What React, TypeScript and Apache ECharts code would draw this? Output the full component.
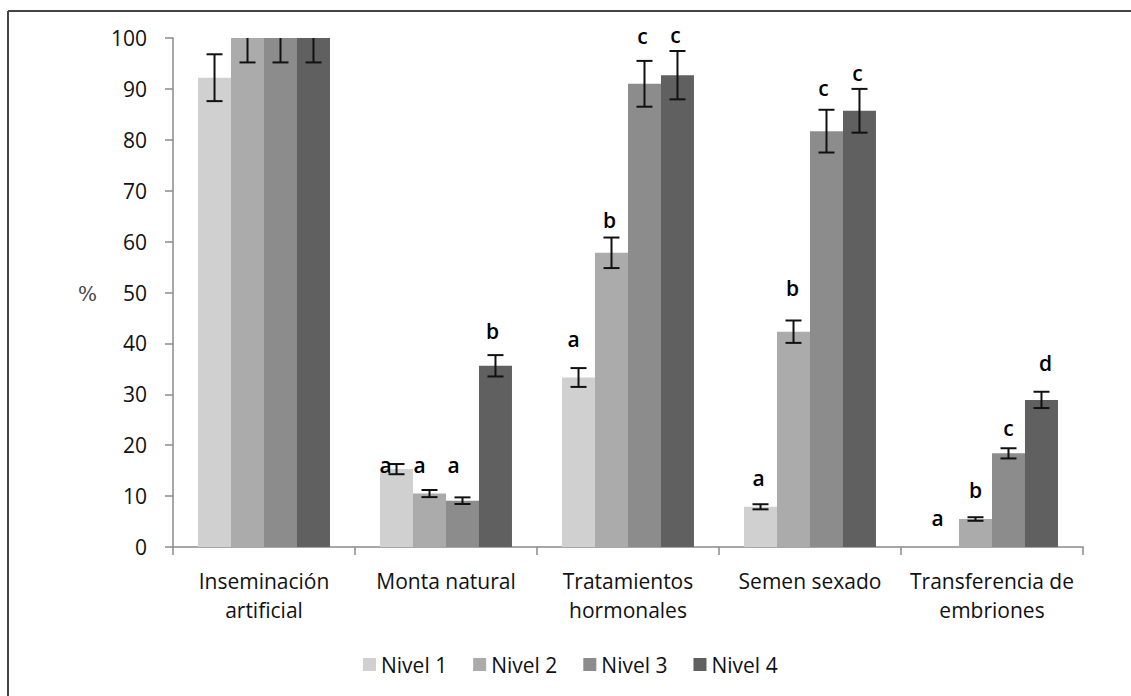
import React, { useEffect, useRef } from "react";
import * as echarts from "echarts";

const categories = [
  "Inseminación\nartificial",
  "Monta natural",
  "Tratamientos\nhormonales",
  "Semen sexado",
  "Transferencia de\nembriones",
];
const seriesNames = ["Nivel 1", "Nivel 2", "Nivel 3", "Nivel 4"];

const nivel1 = [92.2, 15.3, 33.3, 7.9, 0];
const nivel2 = [100, 10.5, 57.8, 42.3, 5.5];
const nivel3 = [100, 9.1, 91.0, 81.7, 18.4];
const nivel4 = [100, 35.6, 92.7, 85.7, 28.9];

const err1 = [4.6, 1.0, 1.85, 0.5, null];
const err2 = [4.8, 0.7, 3.0, 2.2, 0.35];
const err3 = [4.8, 0.65, 4.5, 4.2, 1.0];
const err4 = [4.8, 2.1, 4.75, 4.3, 1.6];

const letters1 = ["", "a", "a", "a", "a"];
const letters2 = ["", "a", "b", "b", "b"];
const letters3 = ["", "a", "c", "c", "c"];
const letters4 = ["", "b", "c", "c", "d"];

// heights (in %) at which the significance letters sit
const letterAt1 = [null, 16.1, 40.9, 13.6, 5.7];
const letterAt2 = [null, 16.1, 64.2, 50.9, 11.2];
const letterAt3 = [null, 16.1, 100.3, 90.1, 23.4];
const letterAt4 = [null, 42.4, 100.6, 93.2, 36.1];

const yTicks = [0, 10, 20, 30, 40, 50, 60, 70, 80, 90, 100];

// style: horizontal pixel nudges of the letters
const letterDx = [
  [0, -11, -5, -2, -5],
  [0, -10, -2, -1, 0],
  [0, -9, -2, -3, 0],
  [0, -3, -2, -2, 4],
];

const colors = ["#d0d0d0", "#ababab", "#8c8c8c", "#606060"];
const FONT = "'Open Sans', 'Noto Sans', sans-serif";
const GAP = 0.275;

export default function App() {
  const ref = useRef<HTMLDivElement>(null);

  useEffect(() => {
    document.body.style.margin = "0";
    if (!ref.current) return;
    const chart = echarts.init(ref.current, null, { renderer: "svg" });

    const values = [nivel1, nivel2, nivel3, nivel4];
    const errs = [err1, err2, err3, err4];
    const letters = [letters1, letters2, letters3, letters4];
    const letterAt = [letterAt1, letterAt2, letterAt3, letterAt4];
    const yMax = yTicks[yTicks.length - 1];

    const barSeries = seriesNames.map((name, s) => ({
      name,
      type: "bar",
      data: values[s],
      barGap: "0%",
      barCategoryGap: `${GAP * 100}%`,
      itemStyle: { color: colors[s] },
      z: 2,
    }));

    const errSeries = seriesNames.map((name, s) => ({
      name: "err-" + name,
      type: "custom",
      clip: false,
      z: 5,
      silent: true,
      data: values[s].map((v, i) => [i, v]),
      renderItem: (params: any, api: any) => {
        const i = params.dataIndex;
        const v = values[s][i];
        const e = errs[s][i];
        const bandW = api.size([1, 0])[0];
        const bw = (bandW * (1 - GAP)) / 4;
        const cx = api.coord([i, 0])[0] + (s - 1.5) * bw;
        const children: any[] = [];
        const stroke = { stroke: "#111", lineWidth: 2 };
        const capHalf = 8;
        if (e != null) {
          const hiV = Math.min(v + e, yMax);
          const yHi = api.coord([i, hiV])[1];
          const yLo = api.coord([i, v - e])[1];
          children.push({ type: "line", shape: { x1: cx, y1: yHi, x2: cx, y2: yLo }, style: stroke });
          children.push({ type: "line", shape: { x1: cx - capHalf, y1: yLo, x2: cx + capHalf, y2: yLo }, style: stroke });
          if (v + e <= yMax) {
            children.push({ type: "line", shape: { x1: cx - capHalf, y1: yHi, x2: cx + capHalf, y2: yHi }, style: stroke });
          }
        }
        const L = letters[s][i];
        const at = letterAt[s][i];
        if (L && at != null) {
          const ly = api.coord([i, at])[1];
          children.push({
            type: "text",
            x: cx + letterDx[s][i],
            y: ly,
            style: {
              text: L,
              fill: "#000",
              font: `600 21px ${FONT}`,
              align: "center",
              verticalAlign: "middle",
            },
          });
        }
        return { type: "group", children };
      },
    }));

    chart.setOption({
      animation: false,
      backgroundColor: "#ffffff",
      grid: { left: 173, right: 48, top: 38, bottom: 149, containLabel: false },
      legend: {
        data: seriesNames,
        left: 363,
        top: 654,
        padding: 0,
        icon: "rect",
        itemWidth: 13,
        itemHeight: 13,
        itemGap: 26,
        textStyle: { fontFamily: FONT, fontSize: 21, color: "#111" },
      },
      xAxis: {
        type: "category",
        data: categories,
        axisLine: { show: true, lineStyle: { color: "#8a8a8a", width: 1.5 } },
        axisTick: { show: true, length: 8, lineStyle: { color: "#8a8a8a", width: 1.5 } },
        axisLabel: {
          interval: 0,
          fontFamily: FONT,
          fontSize: 21,
          lineHeight: 29,
          color: "#111",
          margin: 19,
        },
      },
      yAxis: {
        type: "value",
        min: yTicks[0],
        max: yMax,
        interval: 10,
        splitLine: { show: false },
        axisLine: { show: true, lineStyle: { color: "#8a8a8a", width: 1.5 } },
        axisTick: { show: true, length: 8, lineStyle: { color: "#8a8a8a", width: 1.5 } },
        axisLabel: { fontFamily: FONT, fontSize: 21, color: "#111", margin: 26 },
      },
      graphic: [
        {
          type: "text",
          left: 78,
          top: 284,
          style: { text: "%", font: "20px 'DejaVu Serif', serif", fill: "#444" },
        },
        {
          type: "line",
          shape: { x1: 8, y1: 11, x2: 1131, y2: 11 },
          style: { stroke: "#444", lineWidth: 2 },
        },
        {
          type: "line",
          shape: { x1: 8, y1: 11, x2: 8, y2: 696 },
          style: { stroke: "#444", lineWidth: 2 },
        },
      ],
      series: [...barSeries, ...errSeries],
    });

    return () => chart.dispose();
  }, []);

  return <div ref={ref} style={{ width: 1131, height: 696 }} />;
}
